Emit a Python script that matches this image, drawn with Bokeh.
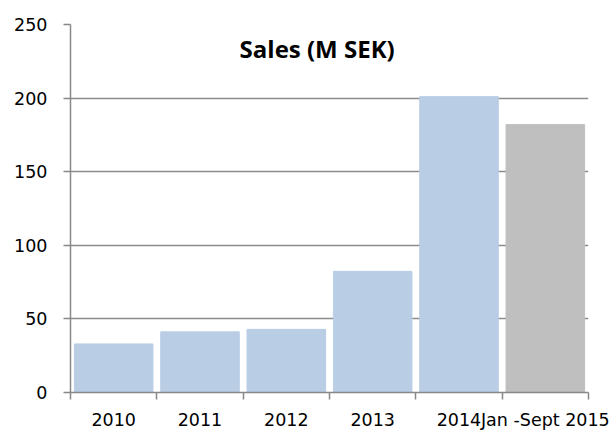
from bokeh.plotting import figure
from bokeh.models import FixedTicker, Label, ColumnDataSource
from bokeh.embed import file_html
from bokeh.resources import INLINE

categories = ["2010", "2011", "2012", "2013", "2014", "Jan -Sept 2015"]
sales = [33, 41.2, 42.9, 82.3, 201, 182]
colors = ["#b9cde5", "#b9cde5", "#b9cde5", "#b9cde5", "#b9cde5", "#bfbfbf"]
y_ticks = [0, 50, 100, 150, 200, 250]

pos = [i + 0.5 for i in range(len(categories))]
src = ColumnDataSource(dict(x=pos, top=sales, color=colors))

p = figure(width=616, height=432, x_range=(0, 6), y_range=(0, 250),
           output_backend="svg", toolbar_location=None,
           min_border_left=70, min_border_right=28, min_border_top=24,
           min_border_bottom=40)
p.outline_line_color = None
p.background_fill_color = "white"

p.vbar(x="x", top="top", width=0.91, color="color", source=src)

p.xaxis.ticker = FixedTicker(ticks=pos, minor_ticks=list(range(7)))
p.xaxis.major_label_overrides = {pv: c for pv, c in zip(pos, categories)}
p.xaxis.major_tick_line_color = None
p.xaxis.minor_tick_line_color = "#888888"
p.xaxis.minor_tick_line_width = 1.5
p.xaxis.minor_tick_out = 7
p.xaxis.minor_tick_in = 0
p.xaxis.axis_line_color = "#888888"
p.xaxis.axis_line_width = 1.5
p.xaxis.major_label_standoff = 10
p.xgrid.grid_line_color = None

p.yaxis.ticker = FixedTicker(ticks=y_ticks)
p.yaxis.minor_tick_line_color = None
p.yaxis.major_tick_out = 7
p.yaxis.major_tick_in = 0
p.yaxis.major_tick_line_color = "#888888"
p.yaxis.major_tick_line_width = 1.5
p.yaxis.axis_line_color = "#888888"
p.yaxis.axis_line_width = 1.5
p.yaxis.major_label_standoff = 16
p.ygrid.grid_line_color = "#8c8c8c"
p.ygrid.grid_line_width = 1.5

for ax in (p.xaxis, p.yaxis):
    ax.major_label_text_font = "DejaVu Sans"
    ax.major_label_text_font_size = "17.5px"
    ax.major_label_text_color = "#000000"

p.add_layout(Label(x=2.857, y=234, text="Sales (M SEK)", text_font="Open Sans",
                   text_font_size="24px", text_font_style="bold",
                   text_align="center", text_baseline="alphabetic",
                   text_color="#000000"))

open("out.html", "w").write(file_html(p, INLINE))
